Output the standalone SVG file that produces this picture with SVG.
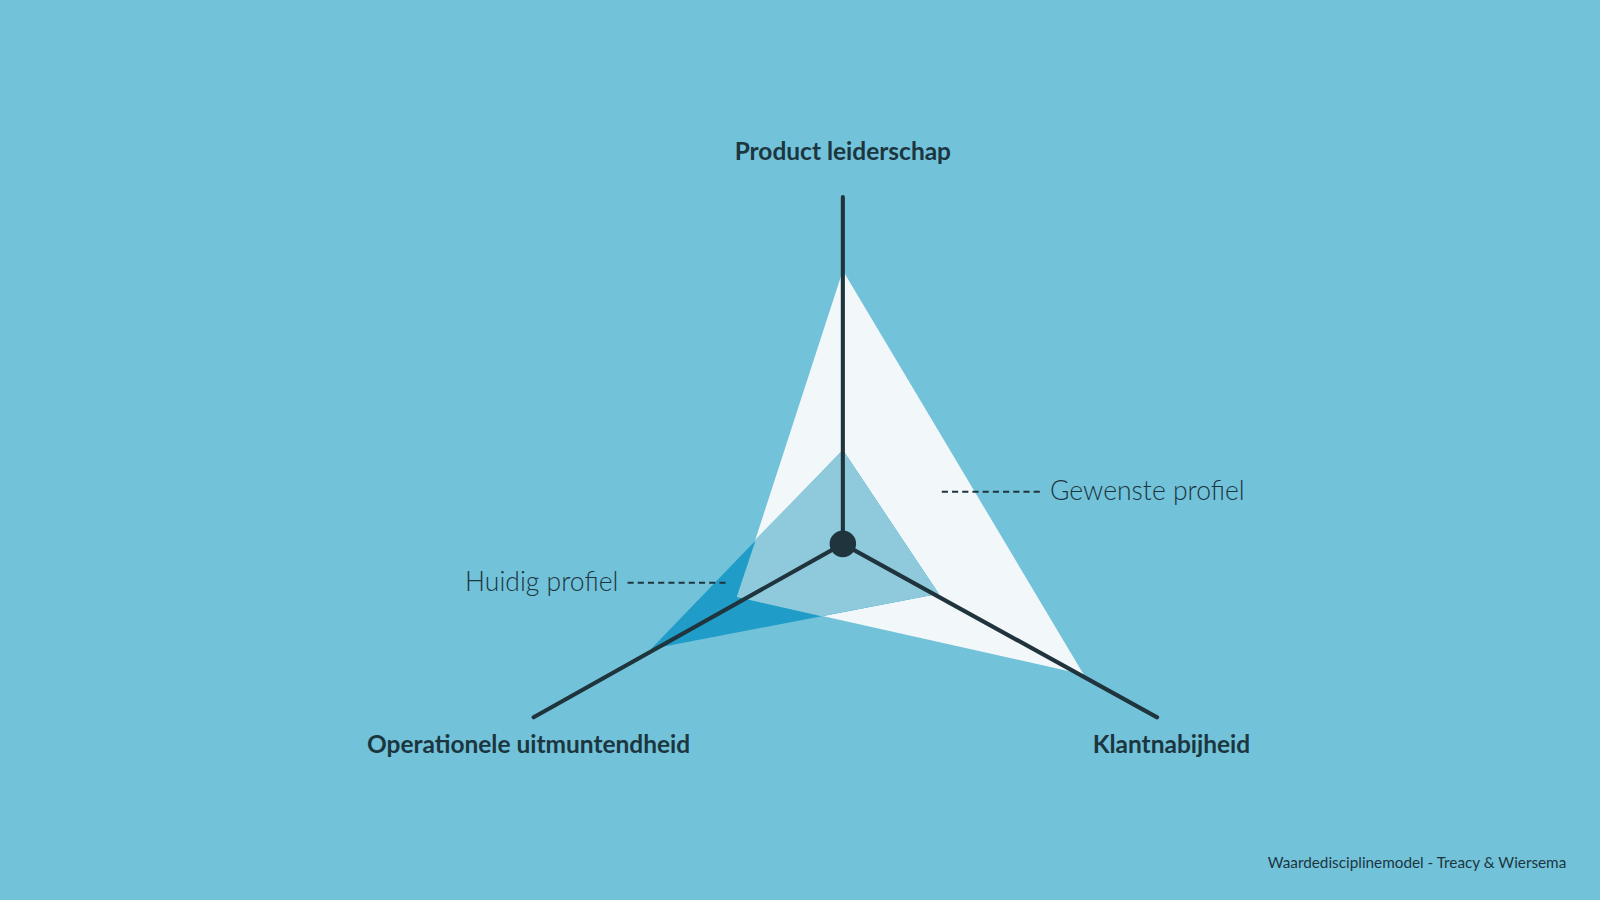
<svg xmlns="http://www.w3.org/2000/svg" width="1600" height="900" viewBox="0 0 1600 900">
<style>
.lab{font-family:Lato,"Liberation Sans",sans-serif;font-weight:700;font-size:24px;fill:#1c3640}
.leg{font-family:Lato,"Liberation Sans",sans-serif;font-weight:300;font-size:26px;fill:#1c3640}
.axis{stroke:#1f343c;stroke-width:4;stroke-linecap:round;fill:none}
.dash{stroke:#1f343c;stroke-width:2;stroke-dasharray:6 4;fill:none}
</style>
<rect width="1600" height="900" fill="#72c2da"/>
<g transform="scale(1.0204)">
<g id="gewenste"><polygon points="826,265 1062,661 722,585" fill="#f2f7fa"/></g>
<g id="huidig">
<polygon points="826,441 920,582 638,636" fill="#1f9cc7"/>
<polygon points="826,441 920,582 805,604 722,585 741,528" fill="#8ecadc"/>
</g>
<g id="connectors">
<line class="axis" x1="826" y1="193" x2="826" y2="533"/>
<line class="axis" x1="826" y1="533" x2="523" y2="703"/>
<line class="axis" x1="826" y1="533" x2="1134" y2="703"/>
<circle cx="826" cy="533" r="13" fill="#1f343c"/>
<line class="dash" x1="923" y1="482" x2="1020" y2="482"/>
<line class="dash" x1="615" y1="571" x2="712" y2="571"/>
</g>
<g id="labels">
<text class="lab" x="826" y="157" text-anchor="middle">Product leiderschap</text>
<text class="lab" x="518" y="738" text-anchor="middle">Operationele uitmuntendheid</text>
<text class="lab" x="1148" y="738" text-anchor="middle">Klantnabijheid</text>
<text class="leg" x="1029" y="490">Gewenste profiel</text>
<text class="leg" x="606" y="579" text-anchor="end">Huidig profiel</text>
<text x="1535" y="851" text-anchor="end" font-family="Lato,'Liberation Sans',sans-serif" font-size="15" fill="#1c3640">Waardedisciplinemodel - Treacy &amp; Wiersema</text>
</g>
</g>
</svg>
